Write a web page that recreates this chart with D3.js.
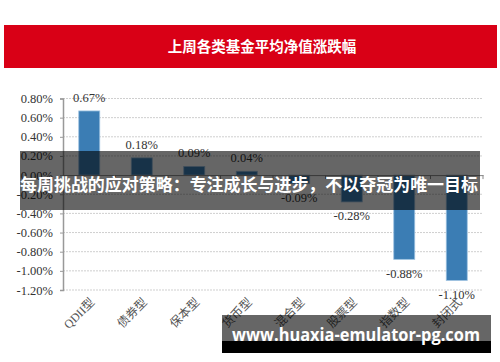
<!DOCTYPE html>
<html>
<head>
<meta charset="utf-8">
<script src="https://cdn.jsdelivr.net/npm/d3@7"></script>
<style>
  body { margin: 0; background: #fff; }
  svg { display: block; }
</style>
</head>
<body>
<div id="chart"></div>
<script>
// Données
const categories = ["QDII型", "债券型", "保本型", "货币型", "混合型", "股票型", "指数型", "封闭式"];
const values = [0.67, 0.18, 0.09, 0.04, -0.09, -0.28, -0.88, -1.10];
const yTicks = [0.8, 0.6, 0.4, 0.2, 0, -0.2, -0.4, -0.6, -0.8, -1.0, -1.2];
const titleText = "上周各类基金平均净值涨跌幅";
const bannerText = "每周挑战的应对策略：专注成长与进步，不以夺冠为唯一目标";
const watermarkText = "www.huaxia-emulator-pg.com";

const width = 500;
const height = 362;
const serif = "'Liberation Serif', 'Noto Sans CJK SC', serif";
const cjk = "'Noto Sans CJK SC', sans-serif";

const svg = d3.select("#chart")
    .append("svg")
    .attr("width", width)
    .attr("height", height);

// Bandeau rouge du titre
svg.append("rect")
    .attr("x", 4).attr("y", 25)
    .attr("width", 493).attr("height", 43)
    .attr("fill", "#d90016");

svg.append("text")
    .attr("x", 262).attr("y", 52)
    .attr("text-anchor", "middle")
    .attr("fill", "#fff")
    .attr("font-family", cjk)
    .attr("font-weight", "bold")
    .attr("font-size", 14.5)
    .text(titleText);

// Échelles
const x = d3.scaleBand()
    .domain(categories)
    .range([63, 483])
    .paddingInner(0.6)
    .paddingOuter(0.3);

const y = d3.scaleLinear()
    .domain([-1.2, 0.8])
    .range([290, 98.5]);

// Grille pointillée
svg.append("g")
    .selectAll("line")
    .data(yTicks.filter(d => d !== 0))
    .enter()
    .append("line")
    .attr("x1", 63).attr("x2", 483)
    .attr("y1", d => y(d)).attr("y2", d => y(d))
    .attr("stroke", "#cfcfcf")
    .attr("stroke-width", 1)
    .attr("stroke-dasharray", "2,1");

// Axe Y
const yAxis = d3.axisLeft(y)
    .tickValues(yTicks)
    .tickSize(3)
    .tickPadding(7)
    .tickFormat(d => d.toFixed(2) + "%");

const gy = svg.append("g")
    .attr("transform", "translate(63,0)")
    .call(yAxis);
gy.select(".domain").attr("stroke", "#999").attr("stroke-width", 1.5);
gy.selectAll(".tick line").attr("stroke", "#999");
gy.selectAll(".tick text")
    .attr("fill", "#333")
    .attr("font-family", serif)
    .attr("font-size", 12.5);

// Barres
svg.append("g")
    .selectAll("rect")
    .data(values)
    .enter()
    .append("rect")
    .attr("x", (d, i) => x(categories[i]))
    .attr("y", d => y(Math.max(0, d)))
    .attr("width", x.bandwidth())
    .attr("height", d => Math.abs(y(d) - y(0)))
    .attr("fill", "#3b7db4")
    .attr("stroke", "#9cc1e0")
    .attr("stroke-width", 0.8);

// Ligne zéro avec graduations aux limites des catégories
const xAxis = d3.axisBottom(x).tickSize(0).tickFormat("");
const gx = svg.append("g")
    .attr("transform", `translate(0,${y(0)})`)
    .call(xAxis);
gx.select(".domain").attr("stroke", "#888");
gx.selectAll("line.bound")
    .data(categories.map((c, i) => 63 + x.step() * (i + 1)))
    .enter()
    .append("line")
    .attr("class", "bound")
    .attr("x1", d => d).attr("x2", d => d)
    .attr("y1", 0).attr("y2", 4)
    .attr("stroke", "#888");

// Étiquettes des valeurs
svg.append("g")
    .selectAll("text")
    .data(values)
    .enter()
    .append("text")
    .attr("x", (d, i) => x(categories[i]) + x.bandwidth() / 2)
    .attr("y", d => d >= 0 ? y(d) - 9 : y(d) + 18.5)
    .attr("text-anchor", "middle")
    .attr("fill", "#333")
    .attr("font-family", serif)
    .attr("font-size", 12.5)
    .text(d => d.toFixed(2) + "%");

// Étiquettes des catégories
svg.append("g")
    .selectAll("text")
    .data(categories)
    .enter()
    .append("text")
    .attr("transform", d => `translate(${x(d) + x.bandwidth() / 2 + 6},303) rotate(-45)`)
    .attr("text-anchor", "end")
    .attr("fill", "#555")
    .attr("font-family", serif)
    .attr("font-size", 12)
    .text(d => d);

// Bandeau sombre superposé
svg.append("rect")
    .attr("x", 20).attr("y", 151)
    .attr("width", 460).attr("height", 59)
    .attr("fill", "#000")
    .attr("fill-opacity", 0.6);

svg.append("text")
    .attr("x", 20).attr("y", 190.5)
    .attr("fill", "#fff")
    .attr("font-family", cjk)
    .attr("font-weight", "bold")
    .attr("font-size", 17)
    .attr("textLength", 458)
    .attr("lengthAdjust", "spacingAndGlyphs")
    .text(bannerText);

// Filigrane
svg.append("rect")
    .attr("x", 222).attr("y", 315)
    .attr("width", 269).attr("height", 26)
    .attr("fill", "#000")
    .attr("fill-opacity", 0.6);
svg.append("rect")
    .attr("x", 222).attr("y", 341)
    .attr("width", 269).attr("height", 12)
    .attr("fill", "#000");

svg.append("text")
    .attr("x", 232).attr("y", 340.5)
    .attr("fill", "#fff")
    .attr("font-family", "'Open Sans', 'DejaVu Sans', sans-serif")
    .attr("font-weight", "bold")
    .attr("font-size", 18)
    .attr("textLength", 248)
    .attr("lengthAdjust", "spacingAndGlyphs")
    .text(watermarkText);
</script>
</body>
</html>
